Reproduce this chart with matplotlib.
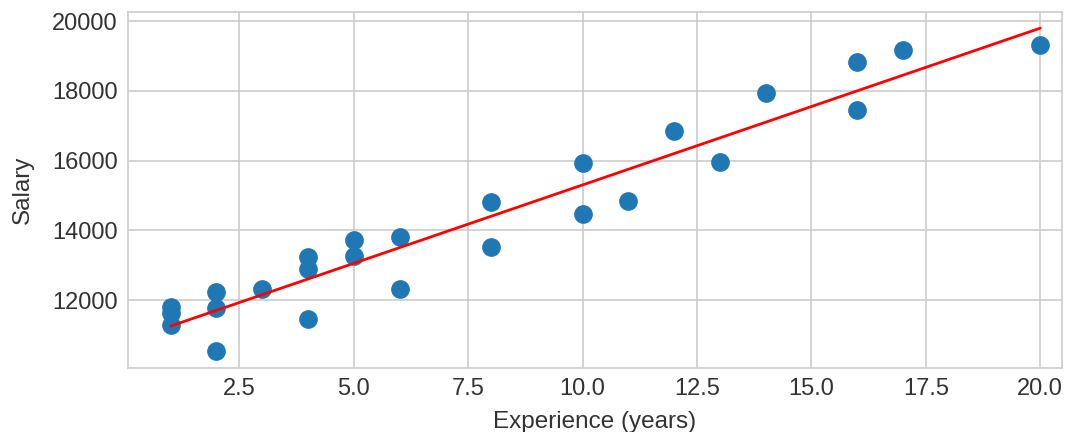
"""Salary vs experience scatter with a linear fit."""

import matplotlib

matplotlib.use("Agg")

import matplotlib.pyplot as plt
import numpy as np

experience = [1, 1, 1, 2, 2, 2, 3, 4, 4, 4, 5, 5, 6, 6, 8, 8,
              10, 10, 11, 12, 13, 14, 16, 16, 17, 20]
salary = [11800, 11630, 11280, 12230, 11770, 10540, 12315, 13230, 12890, 11455,
          13720, 13260, 13810, 12315, 14820, 13530, 15920, 14470, 14850, 16850,
          15950, 17945, 18835, 17450, 19170, 19310]

plt.style.use("seaborn-v0_8-whitegrid")
plt.rcParams["font.family"] = ["Liberation Sans", "DejaVu Sans"]

x = np.array(experience, dtype=float)
y = np.array(salary, dtype=float)
slope, intercept = np.polyfit(x, y, 1)
x_line = np.array([x.min(), x.max()])

fig = plt.figure(figsize=(10.73, 4.32), dpi=100)
ax = fig.add_axes([0.119, 0.148, 0.871, 0.824])
ax.scatter(x, y, s=155, color="#1f77b4", zorder=3)
ax.plot(x_line, slope * x_line + intercept, color="red", linewidth=2, zorder=4)

ax.set_xlim(0.06, 20.48)
ax.set_ylim(10050, 20260)
ax.set_xticks([2.5, 5.0, 7.5, 10.0, 12.5, 15.0, 17.5, 20.0])
ax.set_yticks([12000, 14000, 16000, 18000, 20000])
ax.tick_params(labelsize=17, colors="#333333", pad=7)
ax.set_xlabel("Experience (years)", fontsize=17.5, color="#333333", labelpad=8)
ax.set_ylabel("Salary", fontsize=17.5, color="#333333", labelpad=13)
ax.grid(color="#cccccc", linewidth=1.2)
for spine in ax.spines.values():
    spine.set_visible(True)
    spine.set_color("#cccccc")
    spine.set_linewidth(1.2)

fig.savefig("out.png", dpi=100)
plt.close(fig)
